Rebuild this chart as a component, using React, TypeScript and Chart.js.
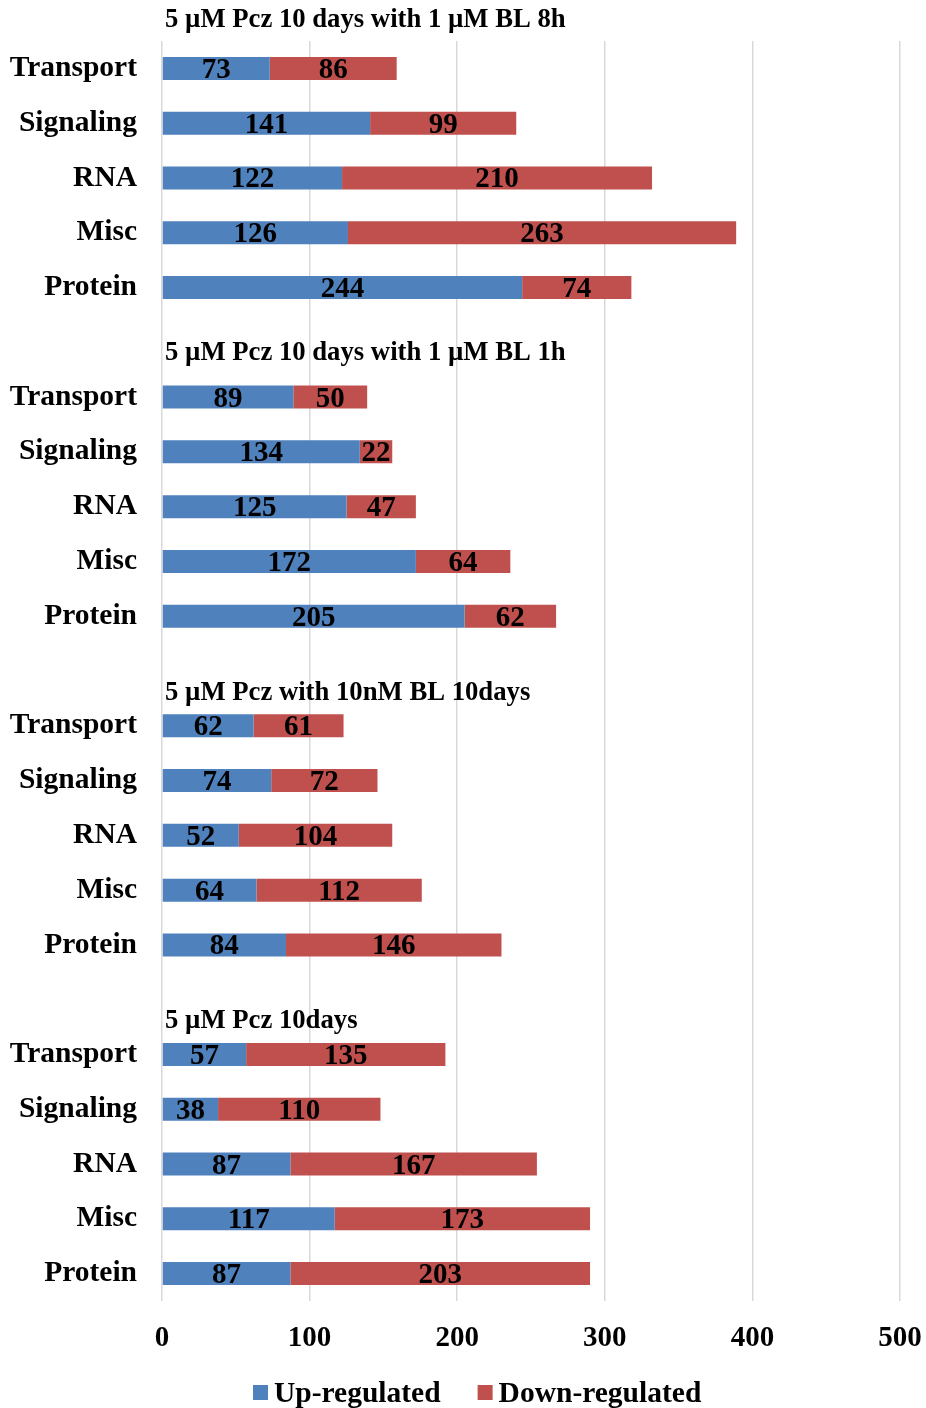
import React, { useEffect, useRef } from "react";
import { Chart, registerables } from "chart.js";

Chart.register(...registerables);

// Treatment groups, listed top to bottom
const groupTitles = [
  "5 µM Pcz 10 days with 1 µM BL 8h",
  "5 µM Pcz 10 days with 1 µM BL 1h",
  "5 µM Pcz with 10nM BL 10days",
  "5 µM Pcz 10days",
];

// Functional classes shown in every group
const functionalClasses = ["Transport", "Signaling", "RNA", "Misc", "Protein"];

// Gene counts per class (same order as functionalClasses)
const upBL8h = [73, 141, 122, 126, 244];
const downBL8h = [86, 99, 210, 263, 74];

const upBL1h = [89, 134, 125, 172, 205];
const downBL1h = [50, 22, 47, 64, 62];

const upBL10nM = [62, 74, 52, 64, 84];
const downBL10nM = [61, 72, 104, 112, 146];

const upPcz = [57, 38, 87, 117, 87];
const downPcz = [135, 110, 167, 173, 203];

const upGroups = [upBL8h, upBL1h, upBL10nM, upPcz];
const downGroups = [downBL8h, downBL1h, downBL10nM, downPcz];

const xTicks = [0, 100, 200, 300, 400, 500];

const seriesNames = ["Up-regulated", "Down-regulated"];
const seriesColors = ["#4F81BD", "#C0504D"];

const FONT = "'Liberation Serif', 'Times New Roman', serif";

// Flatten groups into one category axis, with a blank spacer row between groups
const categories: string[] = [];
const upValues: (number | null)[] = [];
const downValues: (number | null)[] = [];
const groupStartIndex: number[] = [];
groupTitles.forEach((_, g) => {
  if (g > 0) {
    categories.push("");
    upValues.push(null);
    downValues.push(null);
  }
  groupStartIndex.push(categories.length);
  functionalClasses.forEach((c, i) => {
    categories.push(c);
    upValues.push(upGroups[g][i]);
    downValues.push(downGroups[g][i]);
  });
});

// How far above each group's first bar its heading sits
const titleLift = [48, 44, 33, 33];

const groupTitlePlugin = {
  id: "groupTitles",
  afterDraw(chart: any) {
    const { ctx, scales } = chart;
    const yScale = scales.y;
    ctx.save();
    ctx.font = `bold 26.7px ${FONT}`;
    ctx.fillStyle = "#000";
    ctx.textAlign = "left";
    ctx.textBaseline = "middle";
    groupTitles.forEach((t, g) => {
      const y = yScale.getPixelForValue(groupStartIndex[g]) - titleLift[g];
      ctx.fillText(t, chart.chartArea.left + 3, y);
    });
    ctx.restore();
  },
};

const segmentLabelPlugin = {
  id: "segmentLabels",
  afterDatasetsDraw(chart: any) {
    const { ctx } = chart;
    ctx.save();
    ctx.font = `bold 29px ${FONT}`;
    ctx.fillStyle = "#000";
    ctx.textAlign = "center";
    ctx.textBaseline = "middle";
    chart.data.datasets.forEach((ds: any, di: number) => {
      const meta = chart.getDatasetMeta(di);
      meta.data.forEach((bar: any, i: number) => {
        const v = ds.data[i];
        if (v === null || v === undefined) return;
        const { x, y, base } = bar.getProps(["x", "y", "base"], true);
        ctx.fillText(String(v), (x + base) / 2, y + 2);
      });
    });
    ctx.restore();
  },
};

const legendPlugin = {
  id: "bottomLegend",
  afterDraw(chart: any) {
    const { ctx } = chart;
    ctx.save();
    ctx.font = `bold 29.5px ${FONT}`;
    ctx.textBaseline = "middle";
    ctx.textAlign = "left";
    const y = 1393;
    let x = 253;
    chart.data.datasets.forEach((ds: any) => {
      ctx.fillStyle = ds.backgroundColor;
      ctx.fillRect(x, y - 8, 15, 15);
      ctx.fillStyle = "#000";
      ctx.fillText(ds.label, x + 21, y + 1);
      x += 21 + ctx.measureText(ds.label).width + 37;
    });
    ctx.restore();
  },
};

export default function App() {
  const canvasRef = useRef<HTMLCanvasElement | null>(null);

  useEffect(() => {
    if (!canvasRef.current) return;
    const chart = new Chart(canvasRef.current, {
      type: "bar",
      data: {
        labels: categories,
        datasets: [
          {
            label: seriesNames[0],
            data: upValues,
            backgroundColor: seriesColors[0],
            categoryPercentage: 1,
            barPercentage: 0.42,
          },
          {
            label: seriesNames[1],
            data: downValues,
            backgroundColor: seriesColors[1],
            categoryPercentage: 1,
            barPercentage: 0.42,
          },
        ],
      },
      options: {
        indexAxis: "y",
        responsive: false,
        maintainAspectRatio: false,
        animation: false,
        devicePixelRatio: 1,
        layout: { padding: { top: 41, right: 26, bottom: 47, left: 0 } },
        plugins: {
          legend: { display: false },
          tooltip: { enabled: false },
          title: { display: false },
        },
        scales: {
          x: {
            stacked: true,
            min: 0,
            max: 500,
            afterBuildTicks(scale: any) {
              scale.ticks = xTicks.map((v) => ({ value: v }));
            },
            afterFit(scale: any) {
              scale.height = 60;
              scale.paddingLeft = 0;
              scale.paddingRight = 0;
            },
            grid: { color: "#d9d9d9", lineWidth: 1.5, drawTicks: false },
            border: { display: false },
            ticks: {
              padding: 20,
              maxRotation: 0,
              color: "#000",
              font: { family: FONT, size: 29, weight: "bold" },
            },
          },
          y: {
            stacked: true,
            afterFit(scale: any) {
              scale.width = 162;
              scale.paddingTop = 0;
              scale.paddingBottom = 0;
            },
            grid: { display: false, drawTicks: false },
            border: { display: false },
            ticks: {
              padding: 25,
              autoSkip: false,
              color: "#000",
              font: { family: FONT, size: 29.5, weight: "bold" },
            },
          },
        },
      },
      plugins: [groupTitlePlugin, segmentLabelPlugin, legendPlugin],
    });
    return () => chart.destroy();
  }, []);

  return (
    <div style={{ position: "absolute", left: 0, top: 0, width: 926, height: 1408, background: "#fff" }}>
      <canvas ref={canvasRef} width={926} height={1408} style={{ display: "block" }} />
    </div>
  );
}
